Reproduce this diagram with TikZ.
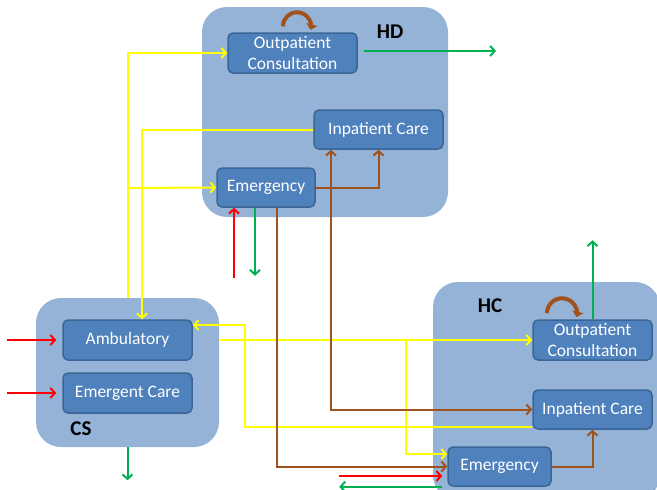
\documentclass[tikz,border=0pt]{standalone}
\usepackage{fontspec}
\setmainfont{Carlito}
\usetikzlibrary{arrows.meta}
\definecolor{outerblue}{HTML}{95B3D7}
\definecolor{innerblue}{HTML}{4F81BD}
\definecolor{innerborder}{HTML}{3B6596}
\definecolor{brn}{HTML}{A0521C}
\definecolor{grn}{HTML}{00B050}
\definecolor{yel}{HTML}{FFFF00}
\definecolor{rd}{HTML}{FF0000}
\tikzset{
  outerbox/.style={fill=outerblue, draw=none, rounded corners=25pt, inner sep=0pt},
  innerbox/.style={fill=innerblue, draw=innerborder, line width=1.5pt, rounded corners=5pt,
    text=white, inner sep=0pt, align=center, font=\fontsize{17.5}{20.5}\selectfont},
  grouplabel/.style={font=\fontsize{21}{24}\selectfont\bfseries, text=black, inner sep=0pt},
  conn/.style={line width=2pt, -{Straight Barb[length=4.5pt,width=10pt]}},
  conntwo/.style={line width=2pt, {Straight Barb[length=4.5pt,width=10pt]}-{Straight Barb[length=4.5pt,width=10pt]}},
  loopst/.style={line width=4pt, draw=brn, -{Triangle[length=5.5pt,width=11pt]}},
}
\begin{document}
\begin{tikzpicture}[x=1pt,y=1pt]
\useasboundingbox (0,0) rectangle (657,-490);
\clip (0,0) rectangle (657,-490);
% group boxes
\node[outerbox, minimum width=246pt, minimum height=210pt] (hd) at (325,-112) {};
\node[outerbox, minimum width=183pt, minimum height=149pt] (cs) at (127.5,-372.5) {};
\node[outerbox, minimum width=227pt, minimum height=218pt] (hc) at (546.5,-391) {};
\node[grouplabel] (hdl) at (390,-32) {HD};
\node[grouplabel] (csl) at (81,-429) {CS};
\node[grouplabel] (hcl) at (490,-306) {HC};
% inner boxes
\node[innerbox, minimum width=129pt, minimum height=40pt] (hdout) at (292.5,-53) {Outpatient\\Consultation};
\node[innerbox, minimum width=129pt, minimum height=39pt] (hdin) at (378.5,-129.5) {Inpatient Care};
\node[innerbox, minimum width=98pt, minimum height=39pt] (hdem) at (266,-187.5) {Emergency};
\node[innerbox, minimum width=129pt, minimum height=40pt] (amb) at (127.5,-340) {Ambulatory};
\node[innerbox, minimum width=129pt, minimum height=40pt] (emc) at (127.5,-393) {Emergent Care};
\node[innerbox, minimum width=119pt, minimum height=40pt] (hcout) at (592.5,-340) {Outpatient\\Consultation};
\node[innerbox, minimum width=119pt, minimum height=39pt] (hcin) at (592.5,-409.5) {Inpatient Care};
\node[innerbox, minimum width=103pt, minimum height=39pt] (hcem) at (499.5,-466.5) {Emergency};
% helper coordinates
\coordinate (yb1) at (127.5,-188);
\coordinate (yb2) at (406,-340);
\coordinate (y4) at (245,-427);
\coordinate (g1) at (496,-51);
% yellow connectors
\draw[conn, yel] (cs.north) |- (hdout.west);
\draw[conn, yel] (yb1) -- (hdem.west);
\draw[conn, yel] (hdin.west) -| ([xshift=14.5pt]amb.north);
\draw[conn, yel] (cs.east |- amb.east) -- (hcout.west);
\draw[conn, yel] (yb2) |- ([yshift=12.5pt]hcem.west);
\draw[conn, yel] ([yshift=-17.5pt]hcin.west) -- (y4) |- ([yshift=15pt]amb.east);
% brown connectors
\draw[conn, brn] (hdem.east) -| (hdin.south);
\draw[conntwo, brn] ([xshift=-47.5pt]hdin.south) |- (hcin.west);
\draw[conn, brn] ([xshift=11pt]hdem.south) |- (hcem.west);
\draw[conn, brn] (hcem.east) -| (hcin.south);
% loops
\draw[loopst] ([xshift=-9.5pt,yshift=6pt]hdout.north) arc[start angle=180, end angle=-15, radius=14pt];
\draw[loopst] ([xshift=-45.5pt,yshift=6pt]hcout.north) arc[start angle=180, end angle=-15, radius=15pt];
% green
\draw[conn, grn] ([xshift=6pt,yshift=2pt]hdout.east) -- (g1);
\draw[conn, grn] ([xshift=-11pt]hdem.south) -- ++(0,-68);
\draw[conn, grn] (cs.south) -- ++(0,-33);
\draw[conn, grn] (hcout.north) -- ++(0,79);
\draw[conn, grn] ([xshift=-5pt]hcem.south west) -- ++(-103,0);
% red
\draw[conn, rd, {Straight Barb[length=4.5pt,width=10pt]}-] ([xshift=-32pt]hdem.south) -- ++(0,-70);
\draw[conn, rd, {Straight Barb[length=4.5pt,width=10pt]}-, shorten <=6pt] (amb.west) -- ++(-55,0);
\draw[conn, rd, {Straight Barb[length=4.5pt,width=10pt]}-, shorten <=6pt] (emc.west) -- ++(-55,0);
\draw[conn, rd, {Straight Barb[length=4.5pt,width=10pt]}-, shorten <=5pt] ([yshift=-9.5pt]hcem.west) -- ++(-108,0);
\end{tikzpicture}
\end{document}
